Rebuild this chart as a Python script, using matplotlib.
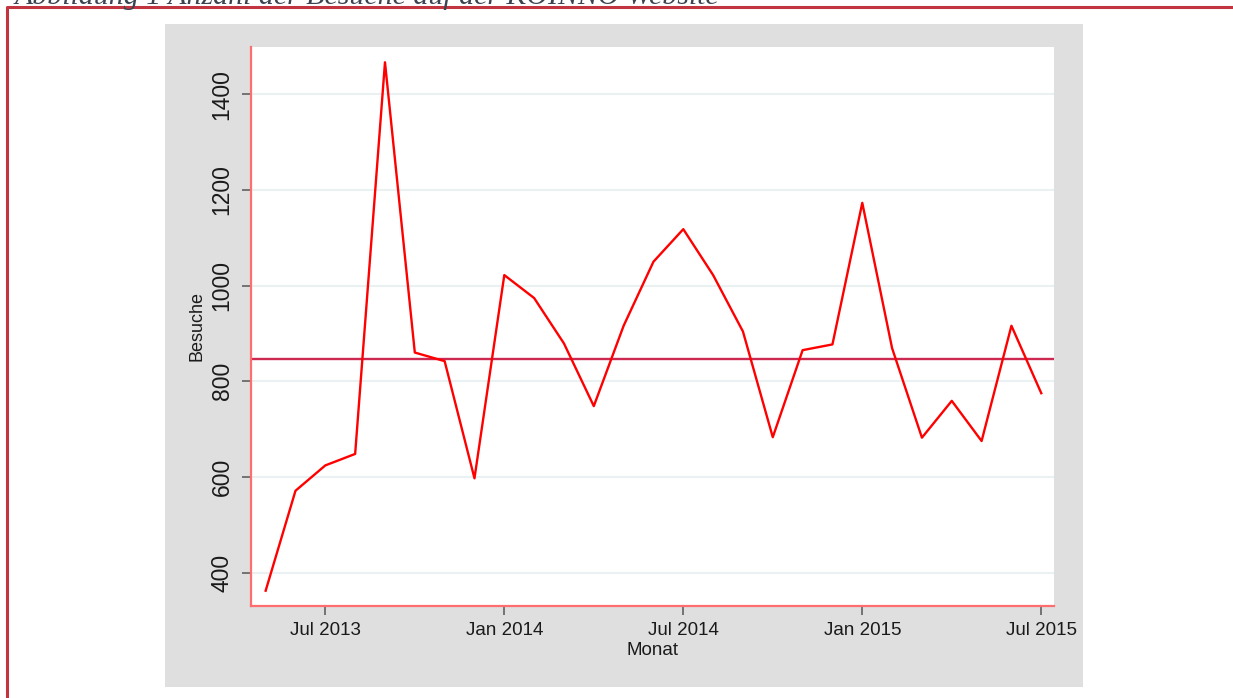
import matplotlib.pyplot as plt
import numpy as np
from matplotlib.patches import Rectangle
from matplotlib.lines import Line2D

plt.rcParams['font.family'] = ['Liberation Sans', 'DejaVu Sans']

# Data (monthly visits)
months = ['2013-05', '2013-06', '2013-07', '2013-08', '2013-09', '2013-10', '2013-11',
          '2013-12', '2014-01', '2014-02', '2014-03', '2014-04', '2014-05', '2014-06',
          '2014-07', '2014-08', '2014-09', '2014-10', '2014-11', '2014-12', '2015-01',
          '2015-02', '2015-03', '2015-04', '2015-05', '2015-06', '2015-07']
visits = [362, 571, 624, 648, 1467, 860, 842, 597, 1022, 974, 879, 748, 916, 1050,
          1118, 1022, 904, 683, 865, 877, 1173, 869, 682, 759, 675, 916, 775]
tick_months = ['2013-07', '2014-01', '2014-07', '2015-01', '2015-07']
tick_labels = ['Jul 2013', 'Jan 2014', 'Jul 2014', 'Jan 2015', 'Jul 2015']
y_ticks = [400, 600, 800, 1000, 1200, 1400]
caption = 'Abbildung 1 Anzahl der Besuche auf der KOINNO Website'

x = np.arange(len(months))
mean_visits = np.mean(visits)

fig = plt.figure(figsize=(12.33, 6.98), dpi=100)
fig.patch.set_facecolor('white')

# grey stata panel (behind the axes)
fig.patches.append(Rectangle((0.1338, 0.0158), 0.7445, 0.9499, transform=fig.transFigure,
                             facecolor='#dfdfdf', edgecolor='none', zorder=-1))
# red document frame
fig.lines.append(Line2D([0.0057, 0.0057, 1.0], [0.0, 0.990, 0.990], transform=fig.transFigure,
                        color='#c2343f', lw=2.2, zorder=-1))
fig.text(0.012, 0.9945, caption, family='Liberation Serif', style='italic', fontsize=21.5,
         color='#3c4452', va='baseline', ha='left')

ax = fig.add_axes([0.2036, 0.1318, 0.6513, 0.8009])
ax.set_facecolor('white')

ax.plot(x, visits, color='#ff0000', lw=1.7, zorder=3)
ax.axhline(mean_visits, color='#cc2850', lw=1.7, zorder=2)

ax.set_xlim(-0.49, 26.43)
ax.set_ylim(330, 1499)
ax.set_yticks(y_ticks)
ax.set_xticks([months.index(m) for m in tick_months])
ax.set_xticklabels(tick_labels)
ax.grid(axis='y', color='#eaf1f3', lw=1.5)
ax.set_axisbelow(True)

for s in ['top', 'right']:
    ax.spines[s].set_visible(False)
for s in ['left', 'bottom']:
    ax.spines[s].set_color('#ff6e6e')
    ax.spines[s].set_linewidth(1.6)

ax.tick_params(axis='both', direction='out', length=6.5, width=1.1, color='#555555')
ax.tick_params(axis='y', labelsize=16.5, pad=6, labelrotation=90, labelcolor='#1a1a1a')
ax.tick_params(axis='x', labelsize=13.5, pad=5, labelcolor='#1a1a1a')
for lab in ax.get_yticklabels():
    lab.set_va('center')

ax.set_xlabel('Monat', fontsize=13.5, labelpad=2, color='#1a1a1a')
ax.set_ylabel('Besuche', fontsize=13, labelpad=4, color='#1a1a1a')

plt.savefig('out.png', dpi=100, facecolor='white')
